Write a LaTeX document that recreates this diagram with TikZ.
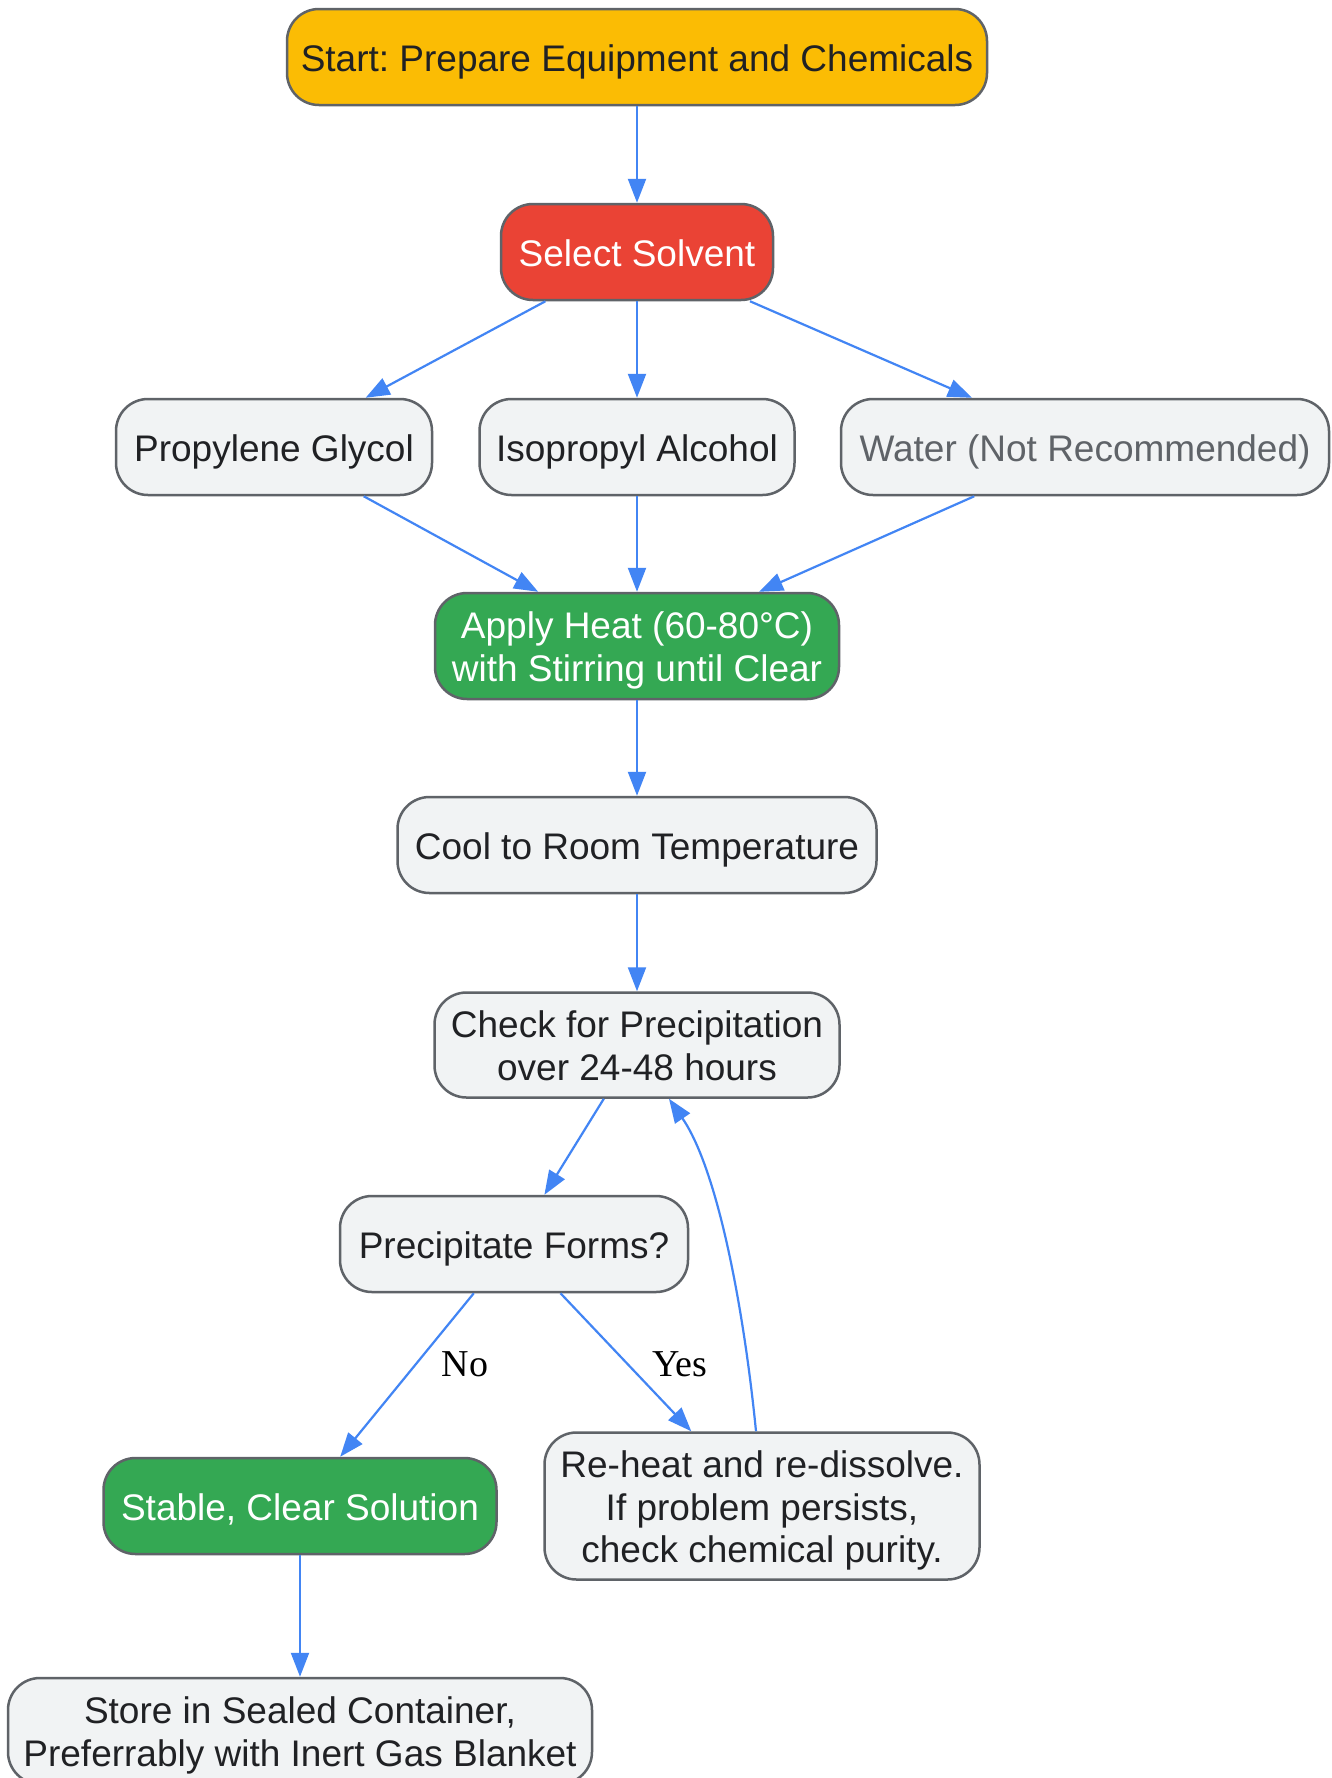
\documentclass[tikz,border=0pt]{standalone}
\usepackage{fontspec}
\setmainfont{Liberation Sans}
\newfontfamily\labelfont{Liberation Serif}
\usetikzlibrary{arrows.meta,calc}
\definecolor{startyellow}{HTML}{FBBC04}
\definecolor{selred}{HTML}{EA4335}
\definecolor{okgreen}{HTML}{34A853}
\definecolor{boxgray}{HTML}{F1F3F4}
\definecolor{bordergray}{HTML}{5F6368}
\definecolor{arrowblue}{HTML}{4285F4}
\definecolor{textdark}{HTML}{202124}
\newcommand\boxtext[1]{\raisebox{-5.5pt}[\height][\depth]{\begin{tabular}{@{}c@{}}#1\end{tabular}}}
\frenchspacing
\begin{document}
\begin{tikzpicture}[x=1pt,y=-1pt,
  box/.style={draw=bordergray, line width=2.5pt, rounded corners=32pt, fill=boxgray,
    text=textdark, font=\fontsize{37}{42.5}\selectfont, inner sep=0pt,
    minimum height=96pt},
  arr/.style={draw=arrowblue, line width=2.2pt, -{Triangle[length=24pt,width=18pt]}},
  lbl/.style={font=\labelfont\fontsize{38}{44}\selectfont, text=black, inner sep=0pt}]
\useasboundingbox (0,0) rectangle (1332,1778);
\clip (0,0) rectangle (1332,1778);
\fill[white] (0,0) rectangle (1332,1778);

\node[box, fill=startyellow, minimum width=700pt] (start) at (637,57) {\boxtext{Start: Prepare Equipment and Chemicals}};
\node[box, fill=selred, text=white, minimum width=272pt] (select) at (637,252) {\boxtext{Select Solvent}};
\node[box, minimum width=316pt] (pg) at (274,447) {\boxtext{Propylene Glycol}};
\node[box, minimum width=315pt] (ipa) at (637,447) {\boxtext{Isopropyl Alcohol}};
\node[box, text=bordergray, minimum width=488pt] (water) at (1085,447) {\boxtext{Water (Not Recommended)}};
\node[box, fill=okgreen, text=white, minimum width=404pt, minimum height=106pt] (heat) at (637,646) {\boxtext{Apply Heat (60-80°C)\\with Stirring until Clear}};
\node[box, minimum width=479pt] (cool) at (637,845) {\boxtext{Cool to Room Temperature}};
\node[box, minimum width=405pt, minimum height=105pt] (check) at (637,1045) {\boxtext{Check for Precipitation\\over 24-48 hours}};
\node[box, minimum width=348pt] (precip) at (514,1244) {\boxtext{Precipitate Forms?}};
\node[box, fill=okgreen, text=white, minimum width=393pt] (stable) at (300,1506) {\boxtext{Stable, Clear Solution}};
\node[box, minimum width=435pt, minimum height=147pt] (reheat) at (762,1506) {\boxtext{Re-heat and re-dissolve.\\If problem persists,\\check chemical purity.}};
\node[box, minimum width=584pt, minimum height=106pt] (store) at (300,1731) {\boxtext{Store in Sealed Container,\\Preferrably with Inert Gas Blanket}};

\draw[arr] (start) -- (select);
\draw[arr] (select) -- (pg);
\draw[arr] (select) -- (ipa);
\draw[arr] (select) -- (water);
\draw[arr] (pg) -- (heat);
\draw[arr] (ipa) -- (heat);
\draw[arr] (water) -- (heat);
\draw[arr] (heat) -- (cool);
\draw[arr] (cool) -- (check);
\draw[arr] (check) -- (precip);
\draw[arr] (precip) -- (stable);
\draw[arr] (precip) -- (reheat);
\draw[arr] (stable) -- (store);

\coordinate (loopstart) at ([xshift=-6pt]reheat.north);
\coordinate (loopend) at ([xshift=32pt]check.south);
\draw[arr] (loopstart) .. controls (744,1310) and (718,1170) .. (loopend);

\node[lbl] (nolbl) at (465,1364) {No};
\node[lbl] (yeslbl) at (680,1364) {Yes};
\end{tikzpicture}
\end{document}
